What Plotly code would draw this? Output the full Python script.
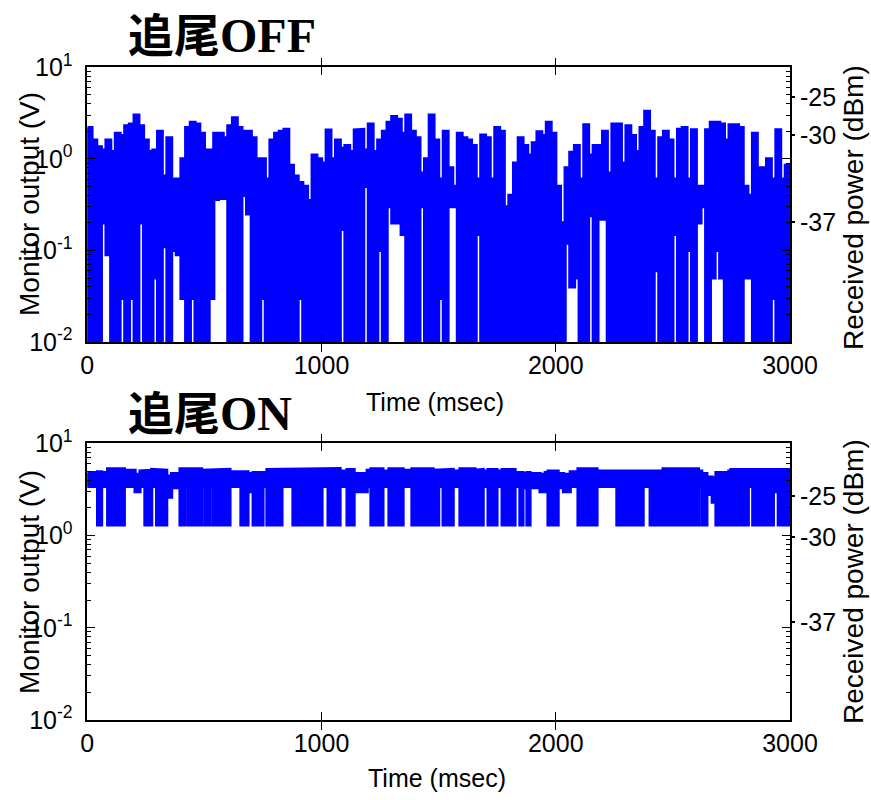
import plotly.graph_objects as go

# ---------------- data ----------------
# Tracking OFF: 20 ms bins, upper / lower envelope of monitor output (V)
t_off = list(range(0, 3000, 20))
hi_off = [2.2, 1.6, 1.35, 1.25, 1.6, 1.2, 1.9, 1.8, 2.3, 2.4,
          3.0, 2.3, 1.6, 1.2, 1.25, 2.0, 0.65, 1.7, 0.6, 0.6,
          1.0, 2.2, 2.5, 2.4, 1.9, 1.25, 1.25, 1.9, 1.9, 1.7,
          2.3, 2.8, 2.2, 2.0, 2.0, 1.7, 1.0, 1.0, 0.6, 1.6,
          1.9, 2.0, 2.1, 0.85, 0.65, 0.55, 0.5, 0.35, 1.1, 1.0,
          0.9, 2.06, 1.0, 1.6, 1.3, 1.4, 1.2, 2.07, 2.1, 1.25,
          2.4, 1.2, 1.6, 2.0, 2.5, 2.9, 2.7, 1.9, 3.0, 2.0,
          1.7, 0.7, 1.0, 3.0, 1.6, 0.6, 2.0, 0.8, 0.5, 1.9,
          1.7, 1.6, 1.4, 0.6, 1.82, 1.7, 0.6, 2.2, 2.0, 0.3,
          0.4, 0.9, 1.7, 1.4, 1.1, 1.5, 1.97, 1.8, 2.5, 1.9,
          0.5, 0.2, 0.8, 1.18, 1.4, 0.6, 2.35, 1.1, 1.4, 1.4,
          2.0, 0.7, 2.4, 2.4, 0.9, 2.3, 1.8, 1.2, 2.2, 3.3,
          2.0, 0.6, 1.7, 2.0, 1.6, 0.6, 2.1, 2.2, 0.6, 2.07,
          0.5, 0.5, 2.07, 2.5, 2.5, 2.4, 1.6, 2.35, 2.35, 2.2,
          0.5, 0.4, 1.9, 0.8, 0.8, 1.0, 0.6, 2.07, 0.6, 0.85]
lo_off = [0.01, 0.01, 0.01, 0.2, 0.09, 0.01, 0.01, 0.03, 0.01, 0.03,
          0.01, 0.2, 0.01, 0.01, 0.05, 0.01, 0.11, 0.01, 0.1, 0.09,
          0.03, 0.01, 0.03, 0.01, 0.01, 0.01, 0.03, 0.36, 0.37, 0.37,
          0.01, 0.01, 0.01, 0.4, 0.25, 0.01, 0.01, 0.03, 0.01, 0.01,
          0.01, 0.01, 0.01, 0.01, 0.01, 0.03, 0.01, 0.01, 0.01, 0.01,
          0.01, 0.01, 0.01, 0.01, 0.17, 0.01, 0.01, 0.01, 0.01, 0.5,
          0.01, 0.01, 0.1, 0.01, 0.3, 0.2, 0.2, 0.15, 0.01, 0.01,
          0.01, 0.3, 0.01, 0.01, 0.01, 0.03, 0.01, 0.3, 0.3, 0.01,
          0.01, 0.01, 0.01, 0.15, 0.01, 0.01, 0.01, 0.01, 0.01, 0.01,
          0.01, 0.01, 0.01, 0.01, 0.01, 0.01, 0.01, 0.01, 0.01, 0.01,
          0.01, 0.01, 0.12, 0.04, 0.05, 0.01, 0.01, 0.24, 0.01, 0.22,
          0.22, 0.01, 0.01, 0.01, 0.01, 0.01, 0.01, 0.01, 0.01, 0.01,
          0.01, 0.06, 0.01, 0.01, 0.01, 0.15, 0.01, 0.01, 0.1, 0.01,
          0.2, 0.3, 0.01, 0.05, 0.1, 0.05, 0.01, 0.01, 0.01, 0.01,
          0.05, 0.05, 0.01, 0.01, 0.01, 0.01, 0.03, 0.01, 0.01, 0.01]

# Tracking ON: segment start times (ms) with upper / lower envelope (V)
t_on = [0, 44, 61, 87, 158, 204, 225, 246, 275, 296,
        339, 360, 396, 417, 431, 488, 502, 524, 538, 609,
        656, 686, 708, 750, 767, 780, 793, 831, 878, 908,
        917, 938, 951, 1002, 1028, 1079, 1109, 1139, 1195, 1211,
        1262, 1288, 1348, 1386, 1476, 1485, 1500, 1519, 1540, 1549,
        1562, 1591, 1655, 1668, 1690, 1711, 1749, 1771, 1826, 1847,
        1860, 1877, 1890, 1933, 1955, 1967, 2010, 2033, 2062, 2095,
        2176, 2261, 2317, 2330, 2373, 2403, 2445, 2458, 2609, 2623,
        2645, 2668, 2684, 2739, 2748, 2822, 2841, 2929, 2950]
hi_on = [4.8, 4.9, 4.8, 5.3, 5.1, 4.6, 5.0, 5.1, 5.2, 5.1,
         4.4, 4.7, 5.3, 5.3, 5.3, 5.1, 5.1, 5.1, 5.2, 4.9,
         4.9, 4.7, 4.8, 4.8, 5.2, 5.2, 5.3, 5.2, 5.2, 5.2,
         5.2, 5.2, 5.3, 5.2, 5.3, 5.0, 5.2, 4.7, 5.1, 5.3,
         5.0, 5.3, 5.1, 5.3, 5.1, 5.2, 5.1, 5.2, 5.1, 5.2,
         5.0, 5.3, 5.1, 5.2, 5.0, 5.2, 5.0, 5.2, 4.8, 4.8,
         4.7, 4.8, 4.7, 4.6, 4.8, 5.0, 4.7, 4.6, 4.9, 5.3,
         5.0, 5.1, 5.0, 5.1, 5.0, 5.0, 5.0, 5.3, 5.0, 4.7,
         4.3, 4.2, 4.8, 5.0, 5.2, 5.2, 5.2, 5.1, 5.2]
lo_on = [3.4, 1.3, 3.4, 1.3, 3.4, 3.0, 3.4, 1.3, 3.4, 1.3,
         2.6, 3.3, 1.3, 3.4, 1.3, 3.4, 1.3, 3.4, 1.3, 3.4,
         1.3, 3.0, 1.3, 3.4, 1.3, 3.4, 1.3, 3.4, 1.3, 3.4,
         1.3, 3.4, 1.3, 3.4, 1.3, 3.4, 1.3, 3.0, 3.4, 1.3,
         3.4, 1.3, 3.4, 1.3, 3.4, 1.3, 3.4, 1.3, 3.4, 1.3,
         3.4, 1.3, 3.4, 1.3, 3.4, 1.3, 3.4, 1.3, 3.4, 1.3,
         3.3, 1.3, 3.3, 3.0, 3.3, 1.3, 3.3, 3.0, 3.4, 1.3,
         3.4, 1.3, 3.4, 1.3, 3.4, 1.3, 3.4, 1.3, 3.4, 1.3,
         2.8, 2.3, 1.3, 3.4, 1.3, 3.4, 1.3, 3.0, 1.3]
T_END = 3000

x_ticks = [0, 1000, 2000, 3000]
y_ticks = [0.01, 0.1, 1, 10]
y_ticktext = ["10<sup>-2</sup>", "10<sup>-1</sup>", "10<sup>0</sup>", "10<sup>1</sup>"]
dbm_text = ["-25", "-30", "-37"]
dbm_pos_off = [4.74, 1.82, 0.205]
dbm_pos_on = [2.68, 0.964, 0.115]
minor_vals = [k * 10 ** d for d in (-2, -1, 0) for k in range(2, 10)]

BLUE = "#0000FF"
FONT = "Liberation Sans, Arial, sans-serif"


def band(t, hi, lo, t_end):
    edges = list(t[1:]) + [t_end]
    xs, ys = [], []
    for a, b, h in zip(t, edges, hi):
        xs += [a, b]
        ys += [h, h]
    for a, b, l in reversed(list(zip(t, edges, lo))):
        xs += [b, a]
        ys += [l, l]
    xs.append(xs[0])
    ys.append(ys[0])
    return xs, ys


fig = go.Figure()
for (t, hi, lo, xa, ya) in [(t_off, hi_off, lo_off, "x", "y"),
                            (t_on, hi_on, lo_on, "x2", "y2")]:
    xs, ys = band(t, hi, lo, T_END)
    fig.add_trace(go.Scatter(x=xs, y=ys, mode="lines", fill="toself",
                             fillcolor=BLUE,
                             line=dict(color=BLUE, width=3.2, shape="linear"),
                             xaxis=xa, yaxis=ya, showlegend=False,
                             hoverinfo="skip"))
# invisible carriers so that the right-hand dBm axes are drawn
for xa, ya in (("x", "y3"), ("x2", "y4")):
    fig.add_trace(go.Scatter(x=[1500], y=[1], mode="markers",
                             marker=dict(opacity=0, size=1),
                             xaxis=xa, yaxis=ya, showlegend=False,
                             hoverinfo="skip"))

W, H = 871, 800
x_dom = [87.3 / W, 790 / W]
top_dom = [1 - 342 / H, 1 - 67.3 / H]
bot_dom = [1 - 720 / H, 1 - 443.3 / H]

xcommon = dict(range=[0, 3000], tickmode="array", tickvals=x_ticks,
               ticks="inside", ticklen=8, tickwidth=1.3, tickcolor="black",
               showline=True, linecolor="black", linewidth=1.5, mirror="allticks",
               showgrid=False, zeroline=False, domain=x_dom, automargin=False,
               tickfont=dict(family=FONT, size=25, color="black"),
               ticklabelstandoff=0)
ycommon = dict(type="log", range=[-2, 1], tickmode="array", tickvals=y_ticks,
               ticktext=y_ticktext, ticks="inside", ticklen=8, tickwidth=1.3,
               tickcolor="black", showline=True, linecolor="black", linewidth=1.5,
               mirror="allticks", showgrid=False, zeroline=False, automargin=False,
               tickfont=dict(family=FONT, size=25, color="black"),
               ticklabelstandoff=8,
               minor=dict(tickmode="array", tickvals=minor_vals, ticks="inside",
                          ticklen=4, tickwidth=1, tickcolor="black", showgrid=False))
rcommon = dict(type="log", range=[-2, 1], tickmode="array", ticks="outside",
               ticklen=4, tickwidth=1.5, tickcolor="black", showline=False,
               showgrid=False, zeroline=False, side="right", automargin=False,
               tickfont=dict(family=FONT, size=25, color="black"),
               ticklabelstandoff=0,
               minor=dict(tickmode="array", tickvals=minor_vals, ticks="inside",
                          ticklen=4, tickwidth=1, tickcolor="black", showgrid=False))

fig.update_layout(
    width=W, height=H, margin=dict(l=0, r=0, t=0, b=0, autoexpand=False),
    paper_bgcolor="white", plot_bgcolor="white", showlegend=False,
    xaxis=dict(xcommon, anchor="y"),
    xaxis2=dict(xcommon, anchor="y2"),
    yaxis=dict(ycommon, domain=top_dom, anchor="x"),
    yaxis2=dict(ycommon, domain=bot_dom, anchor="x2"),
    yaxis3=dict(rcommon, domain=top_dom, overlaying="y", anchor="x",
                tickvals=dbm_pos_off, ticktext=dbm_text),
    yaxis4=dict(rcommon, domain=bot_dom, overlaying="y2", anchor="x2",
                tickvals=dbm_pos_on, ticktext=dbm_text),
)

ann = []
def px(x):
    return x / W
def py(y):
    return 1 - y / H

label_font = dict(family=FONT, size=28, color="black")
for yc in (204, 582):
    ann.append(dict(text="Monitor output (V)", x=px(29), y=py(yc), xref="paper", yref="paper",
                    textangle=-90, showarrow=False, xanchor="center", yanchor="middle",
                    font=label_font))
for yc in (208, 582):
    ann.append(dict(text="Received power (dBm)", x=px(853), y=py(yc), xref="paper", yref="paper",
                    textangle=-90, showarrow=False, xanchor="center", yanchor="middle",
                    font=label_font))
for (xc, yc) in ((435, 402), (437, 778)):
    ann.append(dict(text="Time (msec)", x=px(xc), y=py(yc), xref="paper", yref="paper",
                    showarrow=False, xanchor="center", yanchor="middle",
                    font=dict(family=FONT, size=25, color="black")))
SERIF = "'Liberation Serif', 'Times New Roman', serif"
for (yc, word) in ((32, "OFF"), (410, "ON")):
    ann.append(dict(text="<b>追尾<span style=\"font-family:" + SERIF + ";font-size:48px\">"
                    + word + "</span></b>",
                    x=px(126), y=py(yc), xref="paper", yref="paper",
                    showarrow=False, xanchor="left", yanchor="middle",
                    font=dict(family="Noto Sans CJK JP", size=46, color="black")))
fig.update_layout(annotations=ann)

fig.write_html("out.html", config={"displayModeBar": False},
               post_script="document.body.style.margin='0';document.body.style.padding='0';")
